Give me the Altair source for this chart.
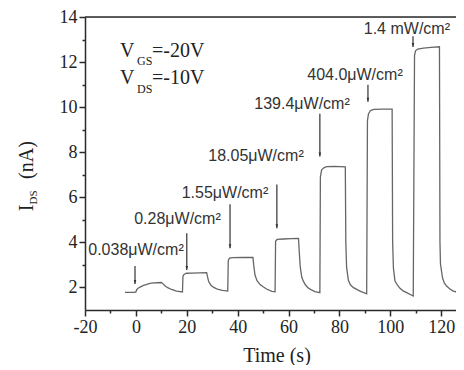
import altair as alt
import pandas as pd

# ---- photocurrent trace (time in s, I_DS in nA) ----
time_s = [-4.3, -0.5, 0.0, 0.3, 1.0, 2.0, 3.0, 4.0, 5.5, 7.0, 8.5, 10.0,
          10.5, 11.4, 12.5, 14.0, 16.0, 18.3,
          18.5, 18.9, 19.9, 22.0, 25.0, 27.8,
          28.1, 28.6, 29.5, 30.6, 32.0, 34.0, 36.1,
          36.3, 36.8, 38.0, 42.0, 46.0,
          46.3, 46.8, 47.6, 48.8, 50.0, 51.5, 53.5, 54.7,
          54.9, 55.5, 58.0, 61.0, 63.9,
          64.3, 64.6, 65.2, 65.8, 66.6, 67.7, 69.0, 70.4, 72.3,
          72.5, 73.0, 74.0, 75.0, 78.0, 82.3,
          82.5, 82.8, 83.5, 84.3, 85.5, 88.1, 90.7,
          91.0, 91.4, 92.2, 93.5, 97.0, 100.7,
          100.9, 101.2, 101.8, 102.8, 103.8, 105.0, 106.4, 109.0,
          109.5, 109.9, 110.8, 113.0, 116.0, 119.3,
          119.5, 119.7, 120.5, 121.2, 122.1, 123.3, 124.7, 126.5]
ids_nA = [1.78, 1.78, 1.80, 1.90, 1.98, 2.04, 2.09, 2.13, 2.18, 2.20, 2.21, 2.22,
          2.18, 2.08, 1.99, 1.91, 1.84, 1.80,
          2.50, 2.58, 2.63, 2.64, 2.65, 2.66,
          2.50, 2.26, 2.10, 2.00, 1.93, 1.87, 1.84,
          3.20, 3.30, 3.32, 3.33, 3.33,
          3.00, 2.55, 2.30, 2.13, 2.03, 1.92, 1.83, 1.81,
          4.05, 4.13, 4.15, 4.17, 4.18,
          3.40, 2.90, 2.45, 2.28, 2.12, 1.98, 1.89, 1.82, 1.77,
          6.90, 7.22, 7.32, 7.36, 7.37, 7.35,
          4.00, 2.90, 2.32, 2.12, 1.99, 1.84, 1.72,
          9.40, 9.70, 9.85, 9.90, 9.91, 9.91,
          4.00, 2.87, 2.30, 2.10, 1.96, 1.85, 1.77, 1.62,
          12.30, 12.50, 12.58, 12.62, 12.65, 12.68,
          4.00, 3.04, 2.43, 2.20, 2.06, 1.94, 1.84, 1.79]

# ---- light-intensity labels and arrows ----
label_text = ["0.038\u03bcW/cm\u00b2", "0.28\u03bcW/cm\u00b2", "1.55\u03bcW/cm\u00b2",
              "18.05\u03bcW/cm\u00b2", "139.4\u03bcW/cm\u00b2", "404.0\u03bcW/cm\u00b2",
              "1.4 mW/cm\u00b2"]
label_x = [0.04, 16.35, 35.0, 47.2, 65.3, 86.1, 106.5]
label_y = [3.43, 4.80, 5.95, 7.59, 9.93, 11.21, 13.25]

arrow_x = [-0.35, 20.0, 37.0, 55.4, 72.3, 91.2, 108.9]
arrow_top = [2.95, 4.41, 5.69, 6.57, 9.71, 10.99, 13.15]
arrow_tip = [2.15, 2.77, 3.74, 4.63, 7.81, 10.24, 12.67]

# ---- bias conditions ----
cond_main = ["V", "=-20V", "V", "=-10V"]
cond_main_x = [-6.25, 6.33, -6.25, 6.33]
cond_main_y = [12.23, 12.23, 11.04, 11.04]
cond_sub = ["GS", "DS"]
cond_sub_x = [0.43, 0.43]
cond_sub_y = [11.88, 10.64]

x_ticks = list(range(-20, 121, 10))
y_ticks = list(range(2, 15, 1))

W, H = 371, 293
XMIN, XMAX = -20, 125.8
YMIN, YMAX = 1, 14
AX = "#2a2a2a"
SERIF = "Liberation Serif"
SANS = "Liberation Sans"

xs = alt.Scale(domain=[XMIN, XMAX], nice=False, zero=False)
ys = alt.Scale(domain=[YMIN, YMAX], nice=False, zero=False)

curve = pd.DataFrame({"t": time_s, "i": ids_nA})
labels = pd.DataFrame({"t": label_x, "i": label_y, "txt": label_text})
arrows = pd.DataFrame({"t": arrow_x, "i": arrow_top, "i2": arrow_tip})
cmain = pd.DataFrame({"t": cond_main_x, "i": cond_main_y, "txt": cond_main})
csub = pd.DataFrame({"t": cond_sub_x, "i": cond_sub_y, "txt": cond_sub})
one = pd.DataFrame({"k": [0]})


def x_axis():
    return alt.Axis(
        values=x_ticks, title=None, grid=False,
        labelExpr="datum.value % 20 == 0 ? '' + datum.value : ''",
        tickSize={"condition": {"test": "datum.value % 20 == 0", "value": 6}, "value": 3},
        labelFont=SERIF, labelFontSize=18, labelColor="#222", labelPadding=2,
        labelFlush=False, labelOverlap=False,
        domainColor=AX, domainWidth=1.5, tickColor=AX, tickWidth=1.5,
    )


def y_axis():
    return alt.Axis(
        values=y_ticks, title=None, grid=False,
        labelExpr="datum.value % 2 == 0 ? '' + datum.value : ''",
        tickSize={"condition": {"test": "datum.value % 2 == 0", "value": 6}, "value": 3},
        labelFont=SERIF, labelFontSize=18, labelColor="#222", labelPadding=2,
        labelFlush=False, labelOverlap=False,
        domainColor=AX, domainWidth=1.5, tickColor=AX, tickWidth=1.5,
    )


def X(f):
    return alt.X(f, scale=xs, axis=x_axis())


def Y(f):
    return alt.Y(f, scale=ys, axis=y_axis())


line = alt.Chart(curve).mark_line(color="#666666", strokeWidth=1.3, clip=True).encode(
    x=X("t:Q"), y=Y("i:Q"), order=alt.Order("t:Q"),
)

top_rule = alt.Chart(one).mark_rule(color=AX, strokeWidth=1.5).encode(
    x=alt.value(0), x2=alt.value(W), y=alt.value(0)
)

arrow_shaft = alt.Chart(arrows).mark_rule(color="#333333", strokeWidth=1.2).encode(
    x=X("t:Q"), y=Y("i:Q"), y2="i2:Q",
)
arrow_head = alt.Chart(arrows).mark_point(
    shape="M-0.32,-1 L0.32,-1 L0,0 Z", size=64, filled=True, color="#333333", opacity=1
).encode(x=X("t:Q"), y=Y("i2:Q"))

label_marks = alt.Chart(labels).mark_text(
    font=SANS, fontSize=16, color="#333333", align="center", baseline="alphabetic"
).encode(x=X("t:Q"), y=Y("i:Q"), text="txt:N")

cond_main_marks = alt.Chart(cmain).mark_text(
    font=SERIF, fontSize=20, color="#222222", align="left", baseline="alphabetic"
).encode(x=X("t:Q"), y=Y("i:Q"), text="txt:N")
cond_sub_marks = alt.Chart(csub).mark_text(
    font=SERIF, fontSize=12, color="#222222", align="left", baseline="alphabetic"
).encode(x=X("t:Q"), y=Y("i:Q"), text="txt:N")

# axis titles drawn as text so the subscript can be reproduced
ytitle_I = alt.Chart(one).mark_text(
    text="I", font=SERIF, fontSize=20, color="#222222", angle=270,
    align="center", baseline="alphabetic"
).encode(x=alt.value(-52), y=alt.value(191))
ytitle_sub = alt.Chart(one).mark_text(
    text="DS", font=SERIF, fontSize=11, color="#222222", angle=270,
    align="center", baseline="alphabetic"
).encode(x=alt.value(-48), y=alt.value(180.5))
ytitle_unit = alt.Chart(one).mark_text(
    text="(nA)", font=SERIF, fontSize=20, color="#222222", angle=270,
    align="center", baseline="alphabetic"
).encode(x=alt.value(-52), y=alt.value(143))
xtitle = alt.Chart(one).mark_text(
    text="Time (s)", font=SERIF, fontSize=20, color="#222222",
    align="center", baseline="alphabetic"
).encode(x=alt.value(192), y=alt.value(345))

chart = alt.layer(
    line, top_rule, arrow_shaft, arrow_head, label_marks,
    cond_main_marks, cond_sub_marks, ytitle_I, ytitle_sub, ytitle_unit, xtitle
).properties(
    width=W, height=H,
    autosize=alt.AutoSizeParams(type="none"),
    padding={"left": 77, "top": 9, "right": 0, "bottom": 55},
).configure_view(strokeWidth=0).configure_axis(
    labelFont=SERIF, labelFontSize=18
).configure(background="white")

chart.save("out.html", embed_options={"renderer": "svg", "actions": False})
